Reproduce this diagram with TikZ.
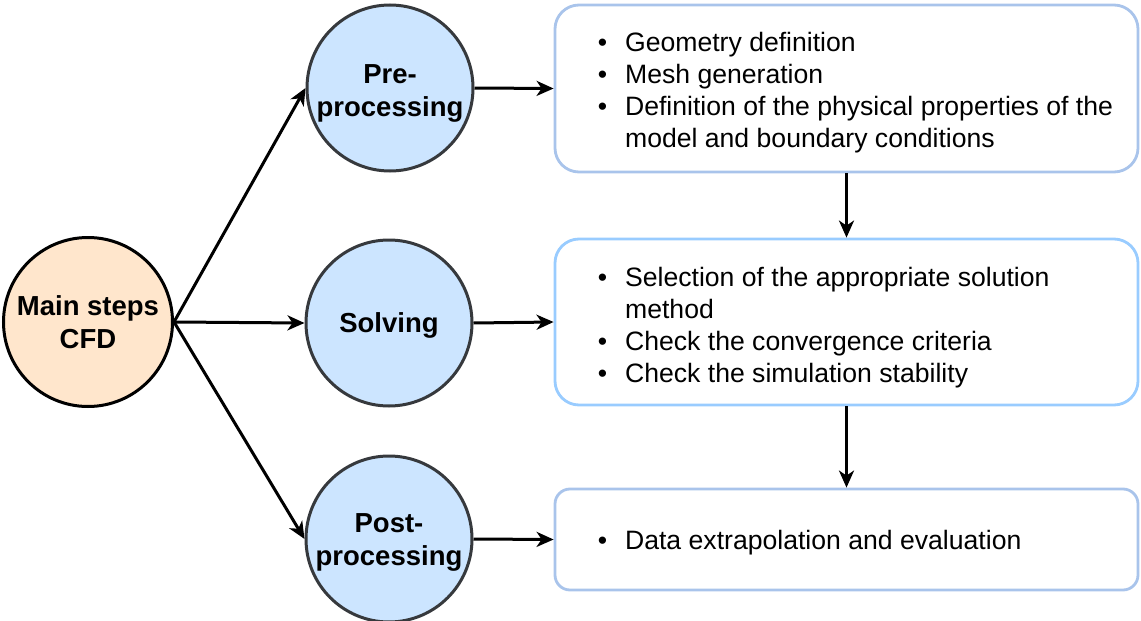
\documentclass[tikz,border=0pt]{standalone}
\usepackage{fontspec}
\setmainfont{Liberation Sans}
\usetikzlibrary{arrows.meta}
\definecolor{circblue}{HTML}{CCE5FF}
\definecolor{circorange}{HTML}{FFE6CC}
\definecolor{circline}{HTML}{36393D}
\definecolor{boxlineA}{HTML}{A9C4EB}
\definecolor{boxlineB}{HTML}{99CCFF}
\tikzset{
  stepcirc/.style={circle, draw=circline, line width=3pt, fill=circblue, minimum size=166pt, inner sep=0pt},
  maincirc/.style={stepcirc, draw=black, fill=circorange, minimum size=169pt},
  circtext/.style={inner sep=0pt, align=center, font=\fontsize{27.5}{33}\selectfont\bfseries},
  infobox/.style={draw=boxlineA, line width=2.8pt, fill=white, rounded corners=24pt, minimum width=583pt, inner sep=0pt},
  infotext/.style={anchor=west, inner sep=0pt, font=\fontsize{26.6}{32}\selectfont, align=left},
  flow/.style={line width=3pt, -{Stealth[length=17pt, width=15pt, inset=5pt]}},
}
\newcommand{\blt}{\textbullet}
\begin{document}
\begin{tikzpicture}[x=1pt, y=-1pt]
\useasboundingbox (0,0) rectangle (1141,621);
% circles
\node[maincirc] (main) at (88,322) {};
\node[stepcirc] (pre) at (390,88) {};
\node[stepcirc] (solve) at (389,323) {};
\node[stepcirc] (post) at (389,539) {};
\node[circtext] (maintext) at (main.center) {Main steps\\CFD};
\node[circtext] (pretext) at ([yshift=-5pt]pre.center) {Pre-\\processing};
\node[circtext] (solvetext) at ([yshift=-2pt]solve.center) {Solving};
\node[circtext] (posttext) at ([yshift=-3pt]post.center) {Post-\\processing};
% boxes
\node[infobox, minimum height=167pt] (b1) at (846.5,88.5) {};
\node[infobox, draw=boxlineB, minimum height=166pt] (b2) at (846.5,322) {};
\node[infobox, minimum height=101pt, rounded corners=15pt] (b3) at (846.5,539.5) {};
% texts
\node[infotext] (t1) at ([xshift=44pt,yshift=-5pt]b1.west) {%
\begin{tabular}{@{}l@{\hspace{18pt}}l@{}}
\blt & Geometry definition\\
\blt & Mesh generation\\
\blt & Definition of the physical properties of the\\
     & model and boundary conditions
\end{tabular}};
\node[infotext] (t2) at ([xshift=44pt,yshift=-6pt]b2.west) {%
\begin{tabular}{@{}l@{\hspace{18pt}}l@{}}
\blt & Selection of the appropriate solution\\
     & method\\
\blt & Check the convergence criteria\\
\blt & Check the simulation stability
\end{tabular}};
\node[infotext] (t3) at ([xshift=44pt,yshift=-4pt]b3.west) {%
\begin{tabular}{@{}l@{\hspace{18pt}}l@{}}
\blt & Data extrapolation and evaluation
\end{tabular}};
% connectors
\draw[flow] (main.east) -- (pre.west);
\draw[flow] (main.east) -- (solve.west);
\draw[flow] (main.east) -- (post.west);
\draw[flow] (pre.east) -- (b1.west);
\draw[flow] (solve.east) -- (b2.west);
\draw[flow] (post.east) -- (b3.west);
\draw[flow] (b1.south) -- (b2.north);
\draw[flow] (b2.south) -- (b3.north);
\end{tikzpicture}
\end{document}
